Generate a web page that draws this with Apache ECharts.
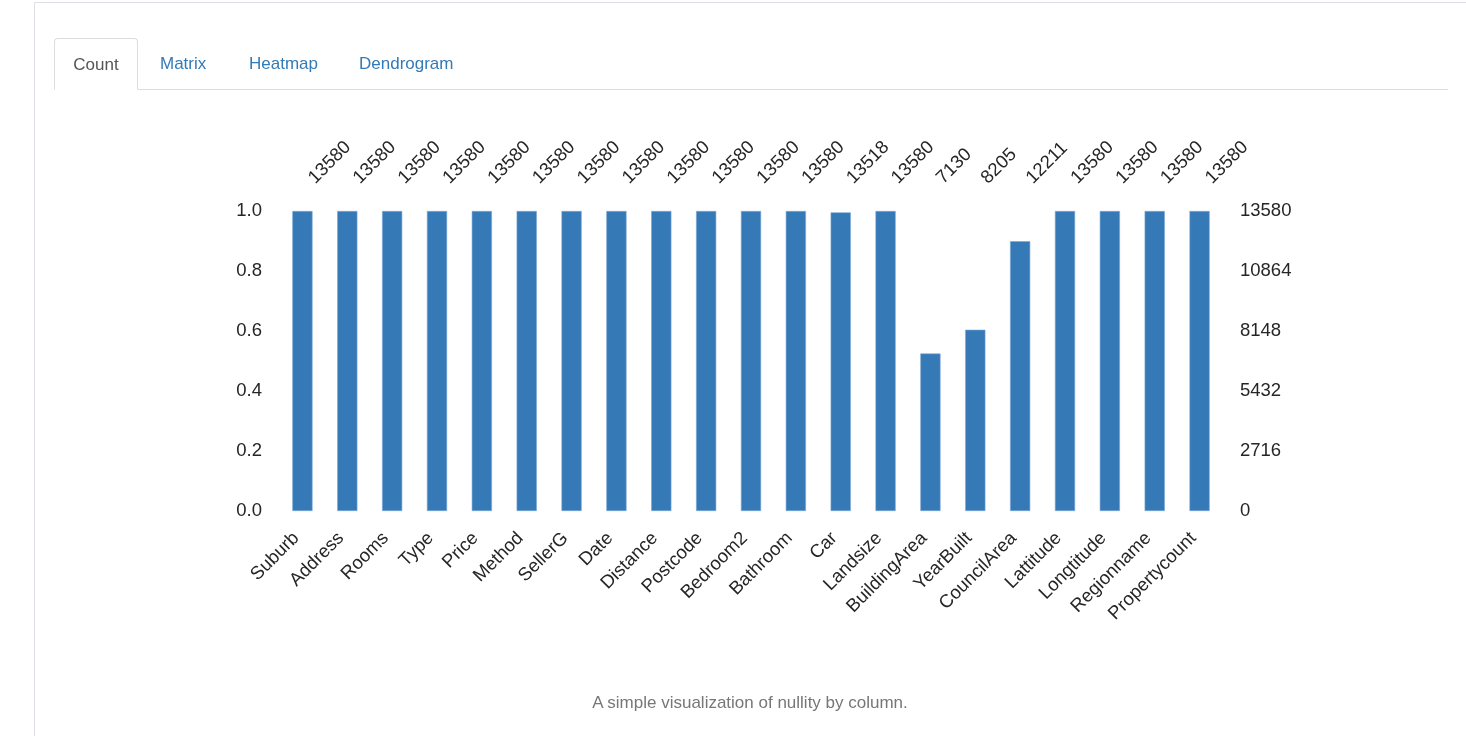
<!DOCTYPE html>
<html>
<head>
<meta charset="utf-8">
<script src="https://cdn.jsdelivr.net/npm/echarts@6/dist/echarts.min.js"></script>
<style>
  html, body { margin:0; padding:0; width:1466px; height:736px; overflow:hidden; background:#fff; font-family:"Liberation Sans", Arial, sans-serif; }
  #frame { position:absolute; left:34px; top:2px; width:1500px; height:800px; border-left:1px solid #dfdfe6; border-top:1px solid #dfdfe6; }
  #tabs { position:absolute; left:54px; top:38px; width:1394px; height:51px; border-bottom:1px solid #dddddd; }
  .tab { position:absolute; top:0; height:51px; line-height:51px; font-size:17px; color:#337ab7; }
  .tab.active { color:#555; border:1px solid #dddddd; border-bottom:1px solid #fff; border-radius:4px 4px 0 0; background:#fff; box-sizing:border-box; height:52px; text-align:center; }
  #chart { position:absolute; left:0; top:0; width:1466px; height:736px; }
  #caption { position:absolute; left:0; width:1500px; top:693px; text-align:center; font-size:17px; color:#777; }
</style>
</head>
<body>
<div id="frame"></div>
<div id="chart"></div>
<div id="tabs">
  <div class="tab active" style="left:0;width:84px;">Count</div>
  <div class="tab" style="left:106px;">Matrix</div>
  <div class="tab" style="left:195px;">Heatmap</div>
  <div class="tab" style="left:305px;">Dendrogram</div>
</div>
<div id="caption">A simple visualization of nullity by column.</div>
<script>
const columns = ["Suburb","Address","Rooms","Type","Price","Method","SellerG","Date","Distance","Postcode","Bedroom2","Bathroom","Car","Landsize","BuildingArea","YearBuilt","CouncilArea","Lattitude","Longtitude","Regionname","Propertycount"];
const counts = [13580,13580,13580,13580,13580,13580,13580,13580,13580,13580,13580,13580,13518,13580,7130,8205,12211,13580,13580,13580,13580];
const totalRows = 13580;
const rightTicks = [0, 2716, 5432, 8148, 10864, 13580];
const leftTicks = [0.0, 0.2, 0.4, 0.6, 0.8, 1.0];

const labelFont = { fontFamily: "Liberation Sans, Arial, sans-serif", fontSize: 18.5, color: "#262626" };

const chart = echarts.init(document.getElementById('chart'), null, { renderer: 'canvas' });
chart.setOption({
  animation: false,
  grid: { left: 280, right: 244, top: 211, bottom: 225, containLabel: false },
  xAxis: [
    {
      type: 'category', data: columns, position: 'bottom',
      axisLine: { show: false }, axisTick: { show: false },
      axisLabel: Object.assign({ rotate: 45, interval: 0, margin: 18, padding: [0, 9, 0, 0] }, labelFont)
    },
    {
      type: 'category', data: counts.map(String), position: 'top',
      axisLine: { show: false }, axisTick: { show: false },
      axisLabel: Object.assign({ rotate: 45, interval: 0, margin: 21, padding: [0, 0, 0, 13] }, labelFont)
    }
  ],
  yAxis: [
    {
      type: 'value', min: 0, max: 1, interval: 0.2, position: 'left',
      axisLine: { show: false }, axisTick: { show: false }, splitLine: { show: false },
      axisLabel: Object.assign({ margin: 18, padding: [4, 0, 0, 0], formatter: v => v.toFixed(1) }, labelFont)
    },
    {
      type: 'value', min: 0, max: totalRows, interval: totalRows / 5, position: 'right',
      axisLine: { show: false }, axisTick: { show: false }, splitLine: { show: false },
      axisLabel: Object.assign({ margin: 18, align: 'left', padding: [4, 0, 0, 0], formatter: v => String(Math.round(v)) }, labelFont)
    }
  ],
  series: [{
    type: 'bar', data: counts, xAxisIndex: 0, yAxisIndex: 1,
    barWidth: '45%',
    itemStyle: { color: '#3579b7', borderColor: '#7aa8d6', borderWidth: 0.6 }
  }]
});
</script>
</body>
</html>
